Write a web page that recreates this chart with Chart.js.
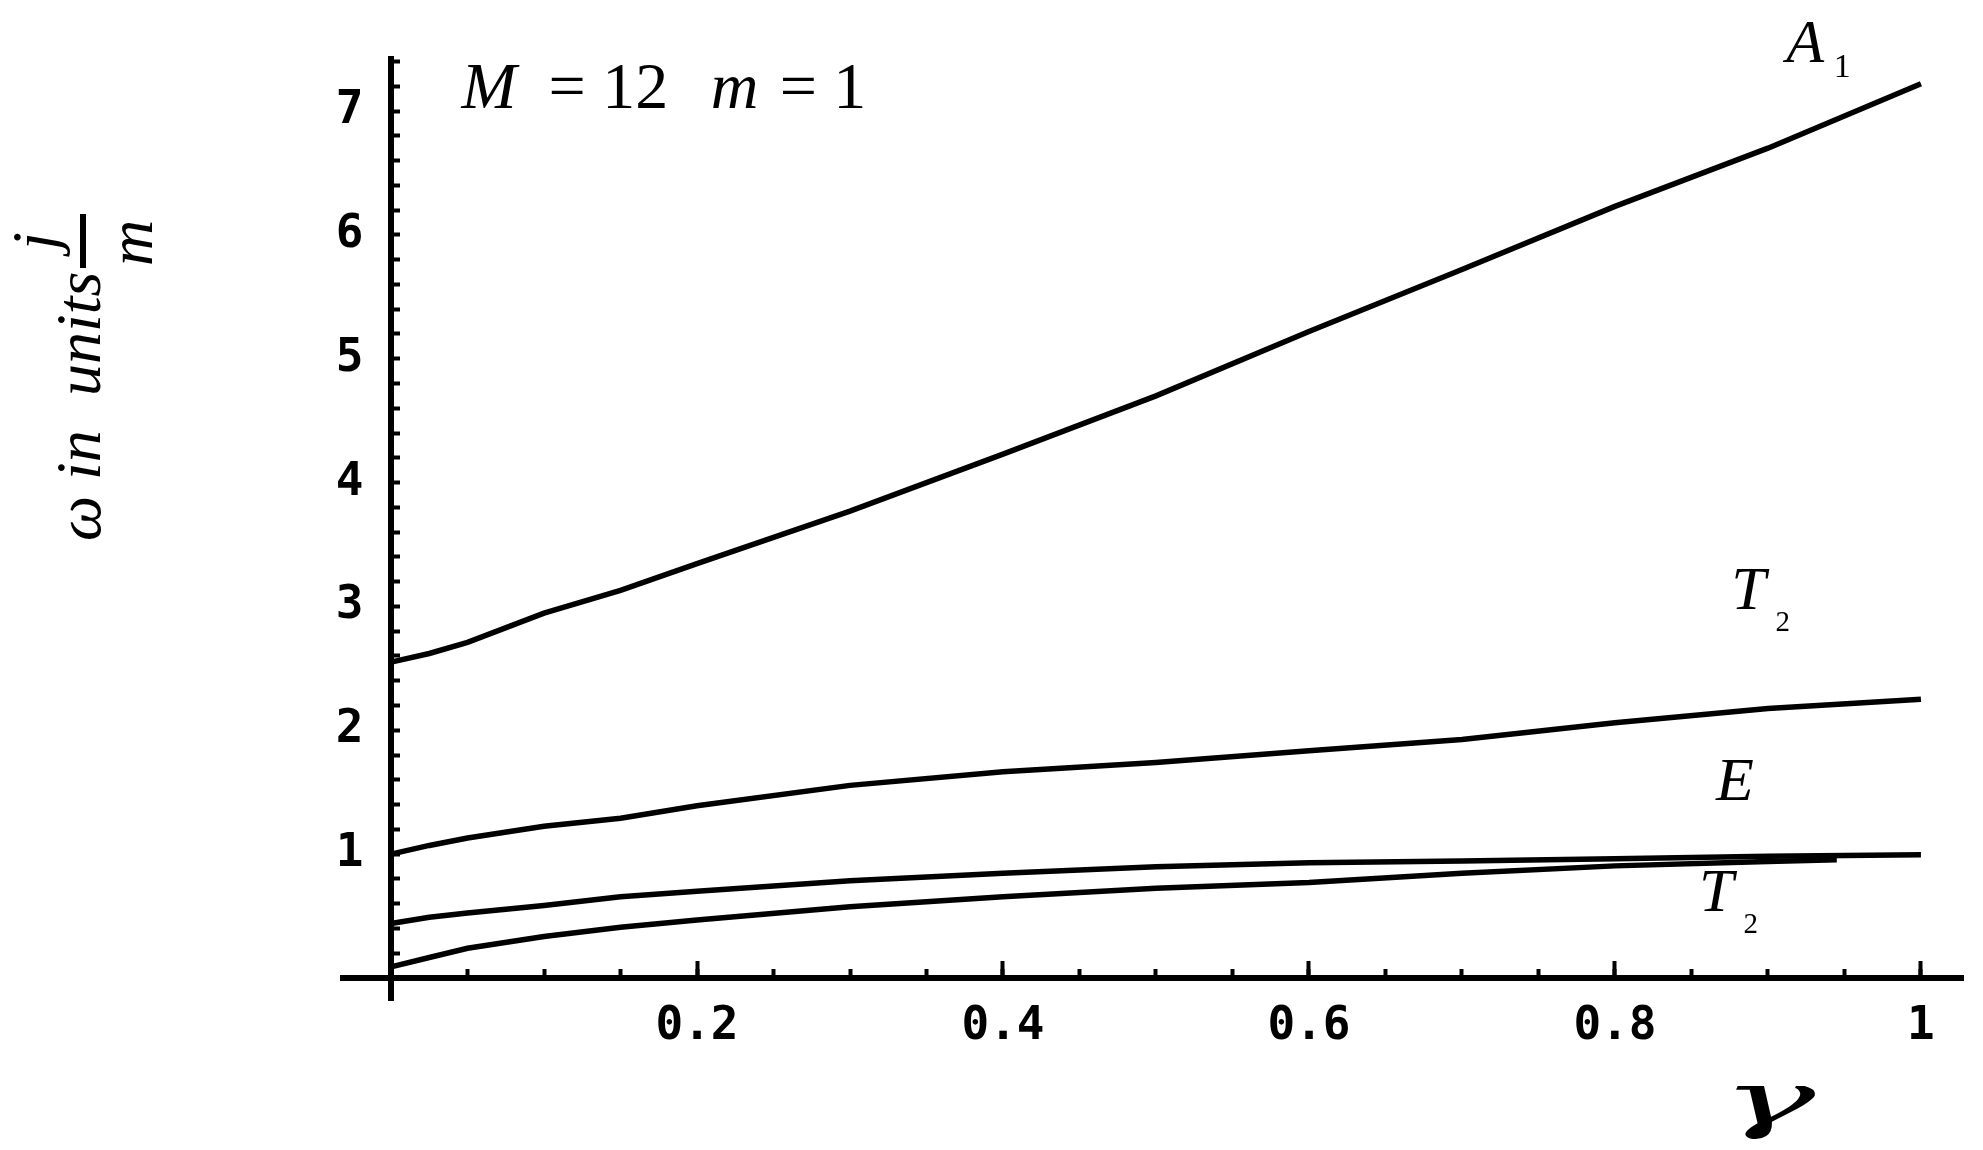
<!DOCTYPE html>
<html><head><meta charset="utf-8">
<script src="https://cdn.jsdelivr.net/npm/chart.js@4.4.1/dist/chart.umd.min.js"></script>
<style>html,body{margin:0;padding:0;background:#fff;overflow:hidden;} #wrap{width:1983px;height:1150px;position:relative;}</style>
</head><body><div id="wrap"><canvas id="c"></canvas></div>
<script>
// ---- data ----
const gammaGrid      = [0, 0.025, 0.05, 0.1, 0.15, 0.2, 0.3, 0.4, 0.5, 0.6, 0.7, 0.8, 0.9, 1.0];
const a1Values       = [2.55, 2.62, 2.71, 2.945, 3.13, 3.345, 3.77, 4.23, 4.70, 5.22, 5.72, 6.23, 6.70, 7.22];
const t2UpperValues  = [1.0, 1.07, 1.13, 1.225, 1.29, 1.39, 1.555, 1.665, 1.74, 1.835, 1.925, 2.06, 2.175, 2.25];
const eValues        = [0.44, 0.49, 0.525, 0.585, 0.655, 0.70, 0.785, 0.845, 0.897, 0.93, 0.945, 0.962, 0.982, 0.995];
const gammaLowerT2   = [0, 0.025, 0.05, 0.1, 0.15, 0.2, 0.3, 0.4, 0.5, 0.6, 0.7, 0.8, 0.9, 0.945];
const t2LowerValues  = [0.09, 0.165, 0.24, 0.335, 0.41, 0.468, 0.575, 0.655, 0.725, 0.77, 0.845, 0.905, 0.94, 0.955];
const seriesNames    = ['A1', 'T2 upper', 'E', 'T2 lower'];
const xTickLabels    = ['0.2', '0.4', '0.6', '0.8', '1'];
const yTickLabels    = ['1', '2', '3', '4', '5', '6', '7'];

function pts(xs, ys) { return xs.map((x, i) => ({x: x, y: ys[i]})); }

const SERIF = '"Liberation Serif", "Times New Roman", serif';
const MONO = '"DejaVu Sans Mono", monospace';

const annotPlugin = {
  id: 'annot',
  afterDraw(chart) {
    const ctx = chart.ctx;
    const xs = chart.scales.x, ys = chart.scales.y;
    const X = v => xs.getPixelForValue(v), Y = v => ys.getPixelForValue(v);
    ctx.save();
    ctx.fillStyle = '#000';
    ctx.textBaseline = 'alphabetic';
    ctx.textAlign = 'left';
    function t(s, x, y, size, italic, family) {
      ctx.font = (italic ? 'italic ' : '') + size + 'px ' + (family || SERIF);
      ctx.fillText(s, x, y);
    }
    // parameters text
    t('M', X(0.046), Y(7.025), 66, true);
    t('= 12', X(0.103), Y(7.025), 66, false);
    t('m', X(0.209), Y(7.025), 66, true);
    t('= 1', X(0.254), Y(7.025), 66, false);
    // curve labels
    t('A', X(0.912), Y(7.396), 62, true);
    t('1', X(0.943), Y(7.275), 34, false);
    t('T', X(0.876), Y(2.979), 62, true);
    t('2', X(0.905), Y(2.80), 29, false);
    t('E', X(0.866), Y(1.437), 62, true);
    t('T', X(0.855), Y(0.541), 62, true);
    t('2', X(0.884), Y(0.363), 29, false);

    // y axis title (rotated)
    ctx.save();
    ctx.rotate(-Math.PI / 2);
    ctx.font = 'italic 64px ' + SERIF;
    ctx.fillText('\u03C9', -541, 100);
    ctx.fillText('in', -480, 100);
    ctx.fillText('units', -396, 100);
    ctx.fillText('j', -250, 56);
    ctx.fillText('m', -266, 152);
    ctx.fillRect(-268, 80, 54, 6);
    ctx.restore();

    // x axis title gamma
    ctx.save();
    ctx.translate(1768, 1124);
    ctx.scale(2.2, 1);
    ctx.font = 'italic 72px "DejaVu Serif", serif';
    ctx.textAlign = 'center';
    ctx.textBaseline = 'alphabetic';
    ctx.fillText('\u03B3', 0, 0);
    ctx.restore();
    ctx.restore();
  }
};

const lineStyle = {borderColor: '#000', borderWidth: 5.5, pointRadius: 0, tension: 0, fill: false, xAxisID: 'x', yAxisID: 'y'};

new Chart(document.getElementById('c'), {
  type: 'line',
  data: {
    datasets: [
      Object.assign({label: seriesNames[0], data: pts(gammaGrid, a1Values)}, lineStyle),
      Object.assign({label: seriesNames[1], data: pts(gammaGrid, t2UpperValues)}, lineStyle),
      Object.assign({label: seriesNames[2], data: pts(gammaGrid, eValues)}, lineStyle),
      Object.assign({label: seriesNames[3], data: pts(gammaLowerT2, t2LowerValues)}, lineStyle)
    ]
  },
  options: {
    responsive: true,
    maintainAspectRatio: false,
    devicePixelRatio: 1,
    animation: false,
    layout: {padding: {left: 343, right: 20, top: 59, bottom: 150}},
    plugins: {legend: {display: false}, tooltip: {enabled: false}},
    scales: {
      x: {
        type: 'linear', axis: 'x', min: -0.0314, max: 1.0275, position: {y: 0},
        border: {display: true, width: 6, color: '#000'},
        grid: {drawOnChartArea: false, drawTicks: true, tickLength: -12, tickWidth: 4, tickColor: '#000'},
        ticks: {stepSize: 0.05, includeBounds: false, autoSkip: false, padding: 0, callback: () => '', font: {size: 1}}
      },
      x2: {
        type: 'linear', axis: 'x', min: -0.0314, max: 1.0275, position: {y: 0},
        border: {display: false},
        grid: {drawOnChartArea: false, drawTicks: true, tickLength: -17, tickWidth: 4, tickColor: '#000'},
        ticks: {
          stepSize: 0.2, includeBounds: false, autoSkip: false, maxRotation: 0, padding: 38,
          color: '#000', font: {family: MONO, size: 46, weight: 'bold'},
          callback: v => { const i = Math.round(v / 0.2) - 1; return (i >= 0 && i < xTickLabels.length) ? xTickLabels[i] : ''; }
        }
      },
      y: {
        type: 'linear', axis: 'y', min: -0.178, max: 7.42, position: {x: 0},
        border: {display: true, width: 6, color: '#000'},
        grid: {drawOnChartArea: false, drawTicks: true, tickLength: -12, tickWidth: 4, tickColor: '#000'},
        ticks: {
          stepSize: 0.2, includeBounds: false, autoSkip: false, padding: 0,
          color: '#000', font: {family: MONO, size: 46, weight: 'bold'},
          callback: v => { const r = Math.round(v); return (Math.abs(v - r) < 1e-6 && r >= 1 && r <= 7) ? yTickLabels[r - 1] + ' ' : ''; }
        }
      }
    }
  },
  plugins: [annotPlugin]
});
</script>
</body></html>
